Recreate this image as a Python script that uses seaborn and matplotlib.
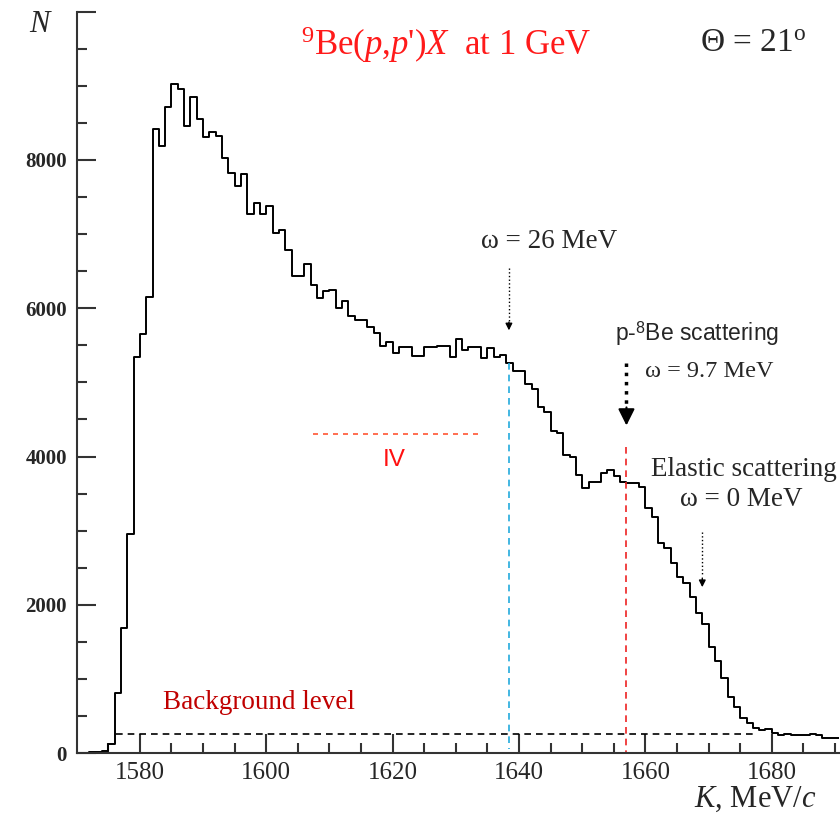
import matplotlib
matplotlib.use("Agg")
import matplotlib.pyplot as plt
import seaborn as sns
import numpy as np
import pandas as pd

# histogram: 1 MeV bins starting at 1570
bin_lo = 1570
counts = [0, 0, 15, 15, 35, 125, 817, 1685, 2953, 5340,
          5650, 6157, 8414, 8190, 8715, 9020, 8955, 8455, 8846, 8545,
          8306, 8375, 8324, 8023, 7829, 7650, 7812, 7268, 7421, 7268,
          7380, 7012, 7052, 6787, 6441, 6441, 6598, 6315, 6135, 6234,
          6252, 6009, 6103, 5897, 5843, 5843, 5753, 5663, 5492, 5550,
          5394, 5475, 5475, 5362, 5362, 5475, 5475, 5492, 5492, 5349,
          5587, 5438, 5475, 5475, 5326, 5461, 5340, 5371, 5259, 5147,
          5147, 4980, 4908, 4675, 4607, 4351, 4315, 4023, 4000, 3753,
          3573, 3663, 3663, 3780, 3821, 3740, 3663, 3641, 3641, 3596,
          3304, 3191, 2832, 2764, 2562, 2382, 2301, 2113, 1888, 1744,
          1438, 1250, 1011, 764, 629, 470, 410, 337, 310, 323,
          278, 247, 260, 243, 243, 243, 260, 243, 211, 211, 211]

background = 260
k_26, k_97, k_0 = 1638.4, 1657.0, 1669.0

nbins = len(counts)
df = pd.DataFrame({"K": np.arange(bin_lo, bin_lo + nbins) + 0.5, "N": counts})

sns.set_theme(style="ticks")
plt.rcParams["font.family"] = ["Liberation Serif", "DejaVu Serif"]
plt.rcParams["mathtext.fontset"] = "custom"
plt.rcParams["mathtext.rm"] = "Liberation Serif"
plt.rcParams["mathtext.it"] = "Liberation Serif:italic"
plt.rcParams["mathtext.bf"] = "Liberation Serif:bold"
plt.rcParams["mathtext.sf"] = "Liberation Sans"

fig = plt.figure(figsize=(8.4, 8.22), dpi=100)
ax = fig.add_axes([0.0913, 0.0836, 0.908, 0.9024])

sns.histplot(data=df, x="K", weights="N", binwidth=1, binrange=(bin_lo, bin_lo + nbins),
             element="step", fill=False, color="black", linewidth=1.4, ax=ax)

ax.set_xlim(1570, 1690.7)
ax.set_ylim(0, 10000)
ax.set_xlabel("")
ax.set_ylabel("")
for s in ["top", "right"]:
    ax.spines[s].set_visible(False)
for s in ["left", "bottom"]:
    ax.spines[s].set_color("#333333")
    ax.spines[s].set_linewidth(1.5)

ax.set_xticks([1580, 1600, 1620, 1640, 1660, 1680])
ax.set_xticks(np.arange(1575, 1691, 5), minor=True)
ax.set_yticks([0, 2000, 4000, 6000, 8000, 10000])
ax.set_yticklabels(["0", "2000", "4000", "6000", "8000", ""])
ax.set_yticks(np.arange(0, 10001, 500), minor=True)
ax.tick_params(which="both", direction="in", color="#333333", width=1.5)
ax.tick_params(which="major", length=14)
ax.tick_params(which="minor", length=7)
ax.tick_params(axis="x", which="major", labelsize=18, pad=6)
ax.tick_params(axis="y", which="major", labelsize=15, pad=7)
for lab in ax.get_yticklabels():
    lab.set_fontweight("bold")

# background level
ax.plot([1576.2, 1677.7], [background, background], color="black", linestyle=(0, (4, 3)), linewidth=1.2)
ax.text(1598.8, 680, "Background level", color="#c00000", fontsize=19.5, ha="center", va="center")

# region IV
ax.plot([1607.4, 1633.8], [4310, 4310], color="#ff5533", linestyle=(0, (3, 3)), linewidth=1.2)
ax.text(1620.3, 3955, "IV", color="#ff1010", fontsize=17.5, ha="center", va="center", family="Liberation Sans")

# omega = 26 MeV
ax.text(1644.7, 6895, "ω = 26 MeV", fontsize=19.5, ha="center", va="center")
ax.plot([k_26, k_26], [6540, 5800], color="black", linestyle=":", linewidth=1.0)
ax.annotate("", xy=(k_26, 5664), xytext=(k_26, 5850),
            arrowprops=dict(arrowstyle="-|>", color="black", mutation_scale=10, lw=1.0))
ax.plot([k_26, k_26], [5259, 60], color="#22aadd", linestyle=(0, (4, 3)), linewidth=1.2)

# p-8Be scattering
ax.text(1668.2, 5663, "p-$^{\\mathsf{8}}$Be scattering", fontsize=16.5, ha="center", va="center",
        family="Liberation Sans")
ax.text(1670.1, 5146, "ω = 9.7 MeV", fontsize=17.5, ha="center", va="center")
ax.plot([k_97, k_97], [5259, 4650], color="black", linestyle=":", linewidth=2.5)
ax.annotate("", xy=(k_97, 4382), xytext=(k_97, 4700),
            arrowprops=dict(arrowstyle="-|>", color="black", mutation_scale=25, lw=1.5))
ax.plot([k_97, k_97], [4134, 0], color="#ee2222", linestyle=(0, (4, 3)), linewidth=1.2)

# elastic
ax.text(1675.6, 3820, "Elastic scattering", fontsize=19.5, ha="center", va="center")
ax.text(1675.2, 3416, "ω = 0 MeV", fontsize=19.5, ha="center", va="center")
ax.plot([k_0, k_0], [2988, 2400], color="black", linestyle=":", linewidth=1.0)
ax.annotate("", xy=(k_0, 2202), xytext=(k_0, 2400),
            arrowprops=dict(arrowstyle="-|>", color="black", mutation_scale=10, lw=1.0))

# titles
ax.text(1628.4, 9551, "$^{9}$Be($p$,$p$')$X$  at 1 GeV", color="#ff1a1a", fontsize=25,
        ha="center", va="center")
ax.text(1677.0, 9570, "Θ = 21$^{\\mathrm{o}}$", fontsize=24, ha="center", va="center")

fig.text(39 / 840, 1 - 25 / 822, "N", fontsize=22, style="italic", ha="center", va="center")
fig.text(755 / 840, 1 - 799 / 822, "$K$, MeV/$c$", fontsize=22, ha="center", va="center")

fig.savefig("out.png", dpi=100)
